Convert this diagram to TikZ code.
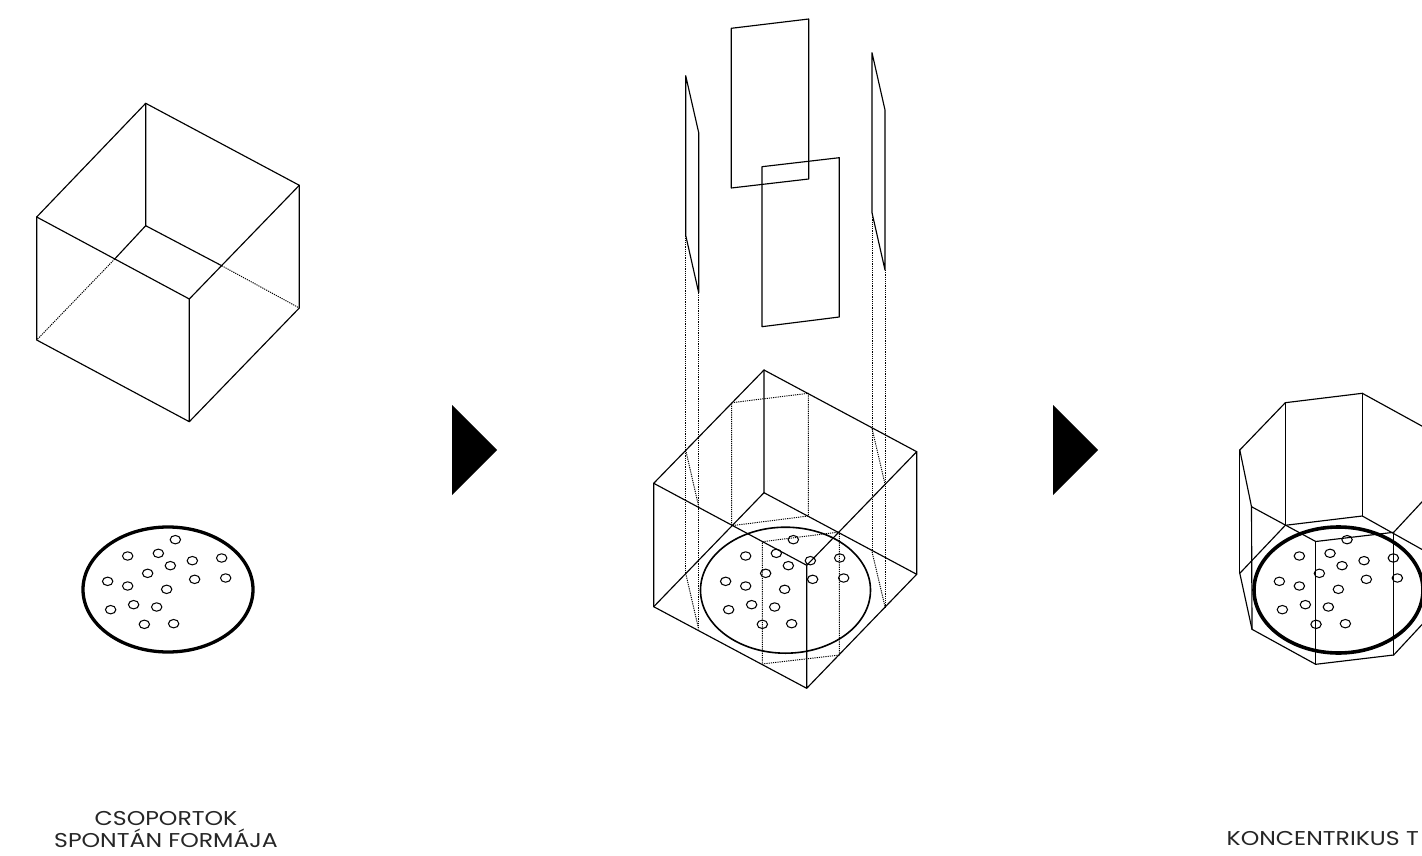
\documentclass[tikz,border=0pt]{standalone}
\usepackage{fontspec}
\setmainfont[FakeStretch=1.18]{Poppins}
\tikzset{
  edge/.style={line width=1.15pt,black,line join=round,line cap=round},
  hid/.style={line width=0.95pt,black,dash pattern=on 1.2pt off 1pt},
  smalldot/.style={line width=1.05pt,black},
  marker/.style={fill=black,draw=none},
  captiontext/.style={font=\fontsize{20}{22}\selectfont,align=center,text=black!85,inner sep=0pt}
}
\newcommand{\dotset}[1]{%
  \foreach \a/\b in {346/89,203/138,295/130,331/167,397/152,485/144,263/190,143/214,203/228,320/238,404/208,497/204,152/299,221/284,290/291,253/343,341/341}
    \draw[smalldot] ({60+\a/3+#1},{510+\b/3}) ellipse [x radius=5.2,y radius=4.2];%
}
\begin{document}
\begin{tikzpicture}[x=1pt,y=-1pt]
\useasboundingbox (0,0) rectangle (1422,856);
\clip (0,0) rectangle (1422,856);
\fill[white] (0,0) rectangle (1422,856);
% ---------- cube 1
\coordinate (a) at (145.7,103.3); \coordinate (b) at (299.3,185.3);
\coordinate (c) at (189.3,299);   \coordinate (d) at (36.7,217);
\coordinate (e) at (145.7,225.7); \coordinate (f) at (299.3,308);
\coordinate (g) at (189.3,421.7); \coordinate (h) at (36.7,340);
\coordinate (p) at (114.7,259);   \coordinate (q) at (221.7,265.7);
\draw[edge] (a)--(b)--(c)--(d)--cycle;
\draw[edge] (a)--(e) (b)--(f)--(g)--(h)--(d) (c)--(g);
\draw[edge] (p)--(e)--(q);
\draw[hid] (p)--(h) (q)--(f);
\draw[line width=3.3pt] (168,589.5) ellipse [x radius=85,y radius=62.5];
\dotset{0}
% ---------- arrows
\fill[marker] (452,405)--(497,450)--(452,495)--cycle;
\fill[marker] (1053,405)--(1098,450)--(1053,495)--cycle;
% ---------- floating panels
\draw[edge] (731.3,28.3)--(808.7,19)--(808.7,179)--(731.3,188)--cycle;
\draw[edge] (762,166.7)--(839.3,157.7)--(839.3,317)--(762,326.7)--cycle;
\draw[edge] (685.7,75.7)--(698.7,132.7)--(698.7,292.7)--(685.7,235.3)--cycle;
\draw[edge] (872,52.7)--(885,110)--(885,270)--(872,212.7)--cycle;
% ---------- cube 2
\coordinate (a2) at (764,370);     \coordinate (b2) at (916.7,451.7);
\coordinate (c2) at (806.7,565.3); \coordinate (d2) at (653.7,483.3);
\coordinate (e2) at (764,492.7);   \coordinate (f2) at (916.7,574.3);
\coordinate (g2) at (806.7,688.3); \coordinate (h2) at (653.7,606.7);
\draw[edge] (a2)--(b2)--(c2)--(d2)--cycle;
\draw[edge] (a2)--(e2) (b2)--(f2)--(g2)--(h2)--(d2) (c2)--(g2);
\draw[edge] (h2)--(e2)--(f2);
% hidden construction
\draw[hid] (685.7,235.3)--(685.7,573.3) (698.7,292.7)--(698.7,629.3);
\draw[hid] (872,212.7)--(872,551.7) (885,270)--(885,606.7);
\draw[hid] (685.7,450)--(698.7,506.7) (685.7,573.3)--(698.7,629.3);
\draw[hid] (872,428.3)--(885,484) (872,551.7)--(885,606.7);
\draw[hid] (731.7,402.7)--(808.3,393.3)--(808.3,516)--(731.7,525.7)--cycle;
\draw[hid] (762.3,541.7)--(839.3,532)--(839.3,655)--(762.3,664)--cycle;
\draw[line width=1.6pt] (785.5,590.2) ellipse [x radius=85,y radius=63];
\dotset{618}
% ---------- octagon
\coordinate (A) at (1239.8,450);   \coordinate (B) at (1285.3,402.7);
\coordinate (C) at (1362.3,393.3); \coordinate (D) at (1426,428.3);
\coordinate (E) at (1438.6,484);   \coordinate (F) at (1393.7,532.3);
\coordinate (G) at (1315.7,541.5); \coordinate (H) at (1251.5,506.7);
\coordinate (A1) at (1239.8,573.3); \coordinate (B1) at (1285.3,525.3);
\coordinate (C1) at (1362.3,516);   \coordinate (D1) at (1426,551.7);
\coordinate (E1) at (1438.6,606.7); \coordinate (F1) at (1393.7,655);
\coordinate (G1) at (1315.7,664.3); \coordinate (H1) at (1252,629.3);
\draw[edge] (A)--(B)--(C)--(D)--(E)--(F)--(G)--(H)--cycle;
\draw[edge] (A1)--(B1)--(C1)--(D1)--(E1)--(F1)--(G1)--(H1)--cycle;
\foreach \n in {A,B,C,D,E,F,G,H} \draw[edge] (\n)--(\n1);
\draw[line width=3.6pt] (1338.5,590) ellipse [x radius=84.5,y radius=63];
\dotset{1171.7}
% ---------- captions
\node[captiontext,anchor=base] (cap1a) at (166,825.5) {CSOPORTOK};
\node[captiontext,anchor=base] (cap1b) at (166,847) {SPONTÁN FORMÁJA};
\node[captiontext,anchor=base west] (cap2) at (1226.5,845) {KONCENTRIKUS T};
\end{tikzpicture}
\end{document}
